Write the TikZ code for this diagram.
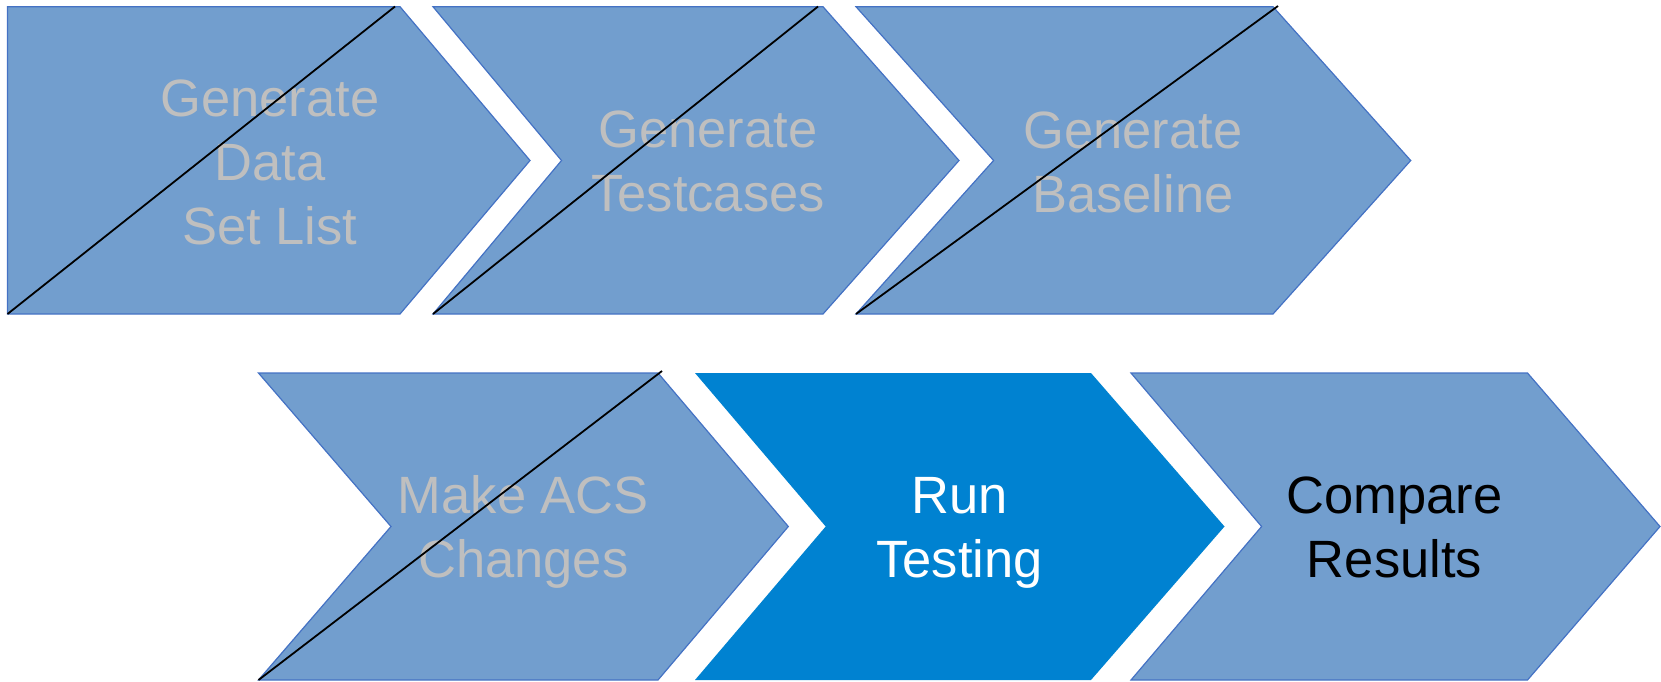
\documentclass[tikz,border=0pt]{standalone}
\usepackage{fontspec}
\setmainfont{Liberation Sans}
\definecolor{chevfill}{RGB}{114,158,206}
\definecolor{chevline}{RGB}{68,114,196}
\definecolor{chevdark}{RGB}{0,130,209}
\definecolor{greytext}{RGB}{191,191,191}
\tikzset{
  chev/.style={fill=chevfill, draw=chevline, line width=0.6pt, line join=miter},
  chevactive/.style={fill=chevdark},
  strike/.style={draw=black, line width=0.9pt},
  label/.style={align=center, anchor=base, inner sep=0pt,
    font=\fontsize{26.25}{32}\selectfont},
}
\begin{document}
\begin{tikzpicture}[x=0.5pt, y=-0.5pt]
\useasboundingbox (0,0) rectangle (1661,681);

% top row of process steps
\draw[chev] (7.5,6.7) -- (400,6.7) -- (530,160.5) -- (400,314) -- (7.5,314) coordinate (a0) -- cycle;
\draw[chev] (433,6.7) -- (823,6.7) -- (959,160.5) -- (823,314) -- (433,314) coordinate (b0) -- (561.5,160.5) -- cycle;
\draw[chev] (856,6.7) -- (1273,6.7) -- (1410.7,160.5) -- (1273,314) -- (856,314) coordinate (c0) -- (993.6,160.5) -- cycle;

% bottom row of process steps
\draw[chev] (258.5,373) -- (658,373) -- (788.3,526.5) -- (658,680) -- (258.5,680) coordinate (d0) -- (391,526.5) -- cycle;
\path[chevactive] (695,373) -- (1091,373) -- (1224.5,526.5) -- (1091,680) -- (695,680) -- (825.7,526.5) -- cycle;
\draw[chev] (1131,373) -- (1527.5,373) -- (1660,526.5) -- (1527.5,680) -- (1131,680) -- (1261.6,526.5) -- cycle;

% labels (the base anchor sits on the last line)
\node[label, text=greytext] (t1) at (270,244) {Generate\\Data\\Set List};
\node[label, text=greytext] (t2) at (708,211.7) {Generate\\Testcases};
\node[label, text=greytext] (t3) at (1133,212.3) {Generate\\Baseline};
\node[label, text=greytext] (t4) at (523.3,577.7) {Make ACS\\Changes};
\node[label, text=white] (t5) at (959.5,577.3) {Run\\Testing};
\node[label, text=black] (t6) at (1394.5,577.3) {Compare\\Results};

% strike-through marks on finished steps
\coordinate (a2) at (395,6.5);
\coordinate (b2) at (818,6.5);
\coordinate (c2) at (1278,6);
\coordinate (d2) at (662,371);
\draw[strike] (a0) -- (a2);
\draw[strike] (b0) -- (b2);
\draw[strike] (c0) -- (c2);
\draw[strike] (d0) -- (d2);
\end{tikzpicture}
\end{document}
